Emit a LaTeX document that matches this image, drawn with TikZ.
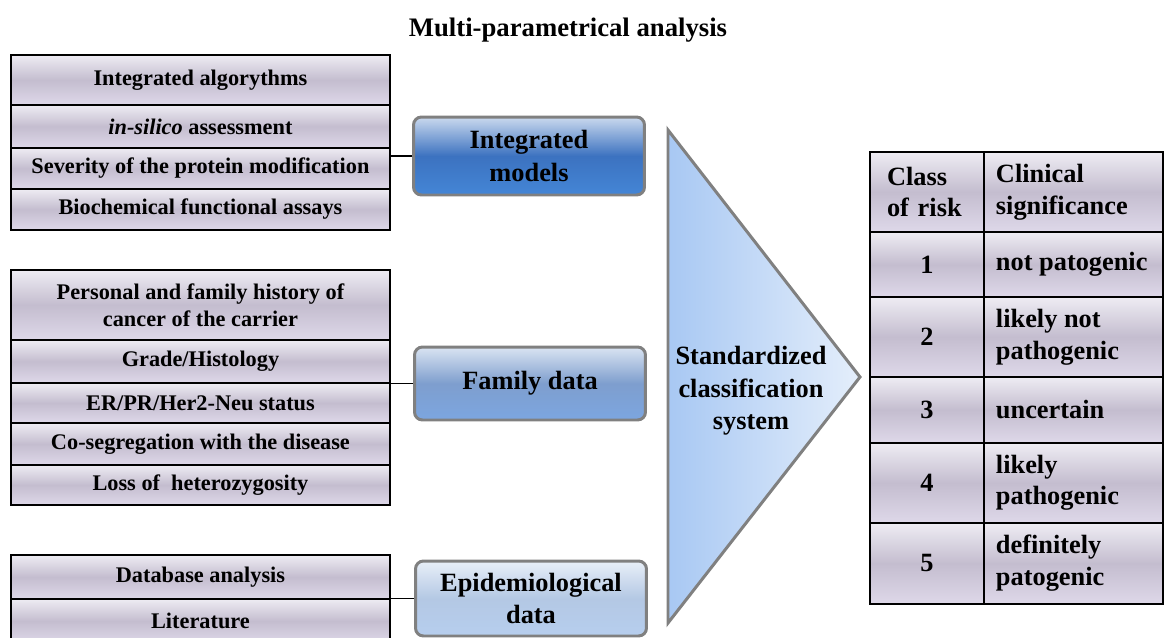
\documentclass[tikz,border=0pt]{standalone}
\usepackage{fontspec}
\setmainfont{Liberation Serif}
\usepackage{tikz}
\usetikzlibrary{positioning}

\definecolor{cellTop}{RGB}{238,236,243}
\definecolor{cellMid}{RGB}{196,189,207}
\definecolor{cellBot}{RGB}{222,216,233}
\definecolor{boxGray}{RGB}{128,128,128}
\definecolor{imTop}{RGB}{202,217,238}
\definecolor{imMid}{RGB}{60,114,192}
\definecolor{imBot}{RGB}{68,134,214}
\definecolor{fdTop}{RGB}{218,228,242}
\definecolor{fdMid}{RGB}{126,158,206}
\definecolor{fdBot}{RGB}{124,166,224}
\definecolor{edTop}{RGB}{232,239,248}
\definecolor{edMid}{RGB}{180,200,228}
\definecolor{edBot}{RGB}{182,206,238}
\definecolor{triLeft}{RGB}{168,200,243}
\definecolor{triRight}{RGB}{228,238,251}

\begin{document}
\begin{tikzpicture} [x=0.02cm, y=-0.02cm,
                    item/.style={draw,line width=0.8pt,outer sep=0pt,minimum width=7.58cm,align=center,
                      top color=cellTop,bottom color=cellBot,middle color=cellMid,
                      font=\bfseries\fontsize{12.7}{15.3}\selectfont},
                    group/.style={draw=boxGray,line width=1.7pt,rounded corners=4.5pt,minimum width=4.62cm,
                      align=center,font=\bfseries\fontsize{15}{18.5}\selectfont},
                    cell/.style={draw,line width=0.8pt,outer sep=0pt,
                      top color=cellTop,bottom color=cellBot,middle color=cellMid,
                      font=\bfseries\fontsize{15}{18}\selectfont},
                    risk/.style={cell,text width=1.6cm,inner xsep=0.34cm,align=center},
                    sig/.style={cell,text width=3.1cm,inner xsep=0.24cm,align=flush left}]

\useasboundingbox (0,0) rectangle (1164,637);

\node[font=\bfseries\fontsize{15.2}{18}\selectfont] (title) at (568,30) {Multi-parametrical analysis};

% integrated models
\node[item, minimum height=1cm, anchor=north west] (ia1) at (11,55) {Integrated algorythms};
\node[item, minimum height=0.86cm, below=0pt of ia1] (ia2) {{\itshape in-silico} assessment};
\node[item, minimum height=0.82cm, below=0pt of ia2] (ia3) {Severity of the protein modification};
\node[item, minimum height=0.82cm, below=0pt of ia3] (ia4) {Biochemical functional assays};

% family data
\node[item, minimum height=1.4cm, anchor=north west] (fd1) at (11,270) {Personal and family history of\\cancer of the carrier};
\node[item, minimum height=0.86cm, below=0pt of fd1] (fd2) {Grade/Histology};
\node[item, minimum height=0.8cm, below=0pt of fd2] (fd3) {ER/PR/Her2-Neu status};
\node[item, minimum height=0.84cm, below=0pt of fd3] (fd4) {Co-segregation with the disease};
\node[item, minimum height=0.8cm, below=0pt of fd4] (fd5) {Loss of \ heterozygosity};

% epidemiological data
\node[item, minimum height=0.88cm, anchor=north west] (ed1) at (11,555) {Database analysis};
\node[item, minimum height=0.88cm, below=0pt of ed1] (ed2) {Literature};

\node[group, minimum height=1.56cm, top color=imTop, bottom color=imBot, middle color=imMid] (models) at (529,156) {Integrated\\models};
\node[group, minimum height=1.46cm, top color=fdTop, bottom color=fdBot, middle color=fdMid] (family) at (530,383.5) {Family data};
\node[group, minimum height=1.5cm, top color=edTop, bottom color=edBot, middle color=edMid] (epidem) at (531,598.5) {Epidemiological\\data};

 \path[line width=0.8pt]
    (models.west) edge (models.west -| ia1.east)
    (family.west) edge (family.west -| fd1.east)
    (epidem.west) edge (epidem.west -| ed1.east);

\path[draw=boxGray, line width=1.7pt, left color=triLeft, right color=triRight]
    (668,130) -- (860,377) -- (668,623) -- cycle;
\node[font=\bfseries\fontsize{15}{18.5}\selectfont, align=center] (system) at (751,391) {Standardized\\classification\\system};

% classes of risk
\node[risk, minimum height=1.6cm, anchor=north west, align=left] (c0) at (870,152) {Class\\of risk};
\node[sig, minimum height=1.6cm, right=0pt of c0] (s0) {Clinical\\significance};
\node[risk, minimum height=1.3cm, below=0pt of c0] (c1) {1};
\node[sig, minimum height=1.3cm, right=0pt of c1] (s1) {not patogenic};
\node[risk, minimum height=1.6cm, below=0pt of c1] (c2) {2};
\node[sig, minimum height=1.6cm, right=0pt of c2] (s2) {likely not\\pathogenic};
\node[risk, minimum height=1.32cm, below=0pt of c2] (c3) {3};
\node[sig, minimum height=1.32cm, right=0pt of c3] (s3) {uncertain};
\node[risk, minimum height=1.6cm, below=0pt of c3] (c4) {4};
\node[sig, minimum height=1.6cm, right=0pt of c4] (s4) {likely\\pathogenic};
\node[risk, minimum height=1.62cm, below=0pt of c4] (c5) {5};
\node[sig, minimum height=1.62cm, right=0pt of c5] (s5) {definitely\\patogenic};
\end{tikzpicture}
\end{document}
